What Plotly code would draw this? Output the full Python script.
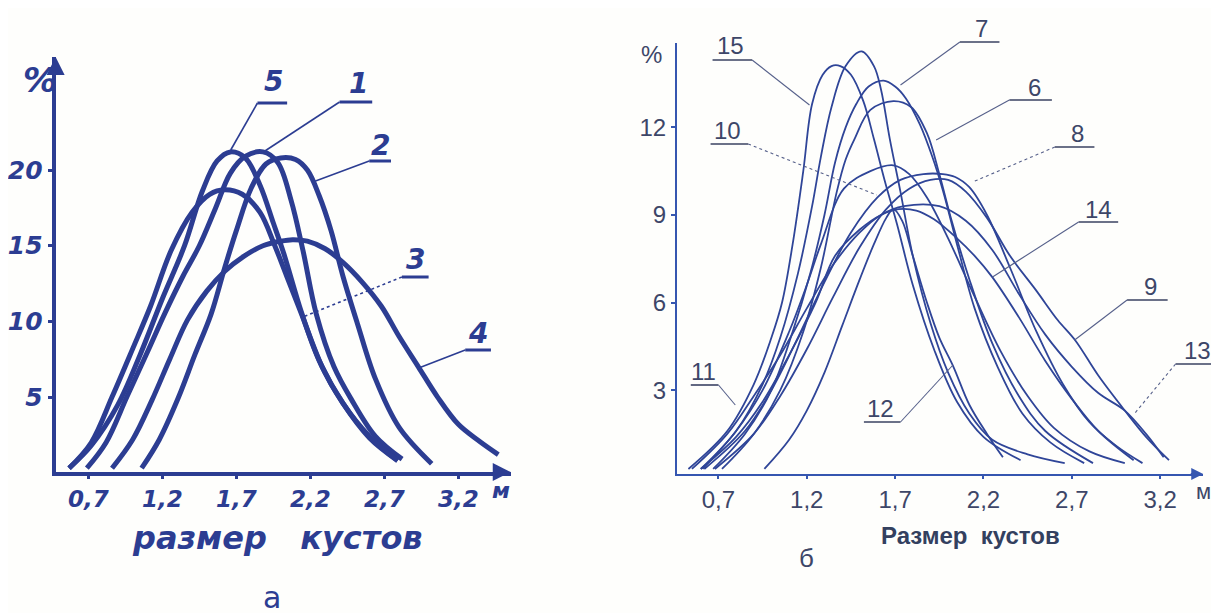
import plotly.graph_objects as go

# ---------------- DATA ----------------
x_ticks = [0.7, 1.2, 1.7, 2.2, 2.7, 3.2]
x_tick_labels = ["0,7", "1,2", "1,7", "2,2", "2,7", "3,2"]
left_y_ticks = [5, 10, 15, 20]
right_y_ticks = [3, 6, 9, 12]

# Panel "а" (left)
a1_x = [0.69, 0.82, 0.96, 1.10, 1.22, 1.34, 1.45, 1.56, 1.66, 1.76, 1.88, 1.98, 2.07, 2.15, 2.24, 2.36, 2.48, 2.64, 2.82]
a1_y = [0.3, 2.0, 5.0, 8.0, 10.6, 13.0, 15.0, 17.5, 19.8, 20.9, 21.2, 20.5, 18.0, 14.7, 10.5, 7.0, 4.8, 2.4, 0.9]

a2_x = [1.06, 1.18, 1.31, 1.42, 1.53, 1.62, 1.70, 1.80, 1.90, 2.00, 2.10, 2.18, 2.26, 2.34, 2.42, 2.52, 2.64, 2.80, 3.02]
a2_y = [0.3, 2.2, 5.0, 7.8, 10.5, 13.5, 16.0, 18.8, 20.4, 20.8, 20.7, 20.0, 18.3, 16.0, 13.0, 9.8, 6.2, 3.0, 0.6]

a3_x = [0.57, 0.72, 0.86, 1.00, 1.12, 1.26, 1.40, 1.52, 1.62, 1.74, 1.86, 1.96, 2.04, 2.14, 2.28, 2.42, 2.60, 2.79]
a3_y = [0.3, 2.0, 5.0, 8.2, 11.0, 14.7, 17.2, 18.4, 18.7, 18.4, 17.2, 15.0, 13.0, 10.5, 7.0, 4.6, 2.3, 0.8]

a4_x = [0.86, 1.00, 1.13, 1.25, 1.37, 1.50, 1.62, 1.75, 1.88, 2.00, 2.08, 2.18, 2.30, 2.42, 2.55, 2.68, 2.80, 2.93, 3.06, 3.20, 3.34, 3.47]
a4_y = [0.3, 2.2, 4.8, 7.5, 10.1, 12.0, 13.3, 14.3, 15.0, 15.3, 15.4, 15.3, 14.8, 13.9, 12.6, 11.0, 9.0, 7.0, 5.0, 3.2, 2.1, 1.2]

a5_x = [0.57, 0.72, 0.90, 1.05, 1.20, 1.35, 1.47, 1.57, 1.66, 1.76, 1.86, 1.95, 2.02, 2.14, 2.26, 2.42, 2.60, 2.79]
a5_y = [0.3, 1.8, 4.5, 7.8, 11.5, 15.0, 18.6, 20.6, 21.2, 20.8, 19.0, 16.5, 14.5, 10.6, 7.4, 4.6, 2.4, 0.8]

# Panel "б" (right)
b6_x = [0.72, 0.90, 1.05, 1.18, 1.28, 1.37, 1.42, 1.47, 1.56, 1.69, 1.79, 1.88, 1.95, 2.02, 2.12, 2.25, 2.40, 2.55, 2.82]
b6_y = [0.3, 1.5, 3.0, 5.0, 7.2, 9.8, 10.9, 11.6, 12.6, 12.9, 12.7, 11.8, 10.4, 8.8, 6.8, 4.6, 2.8, 1.6, 0.5]

b7_x = [0.67, 0.85, 1.00, 1.12, 1.22, 1.30, 1.36, 1.42, 1.48, 1.55, 1.635, 1.70, 1.76, 1.84, 1.91, 1.97, 2.05, 2.15, 2.28, 2.42, 2.58, 2.77]
b7_y = [0.3, 1.5, 3.0, 5.0, 7.0, 9.0, 10.8, 12.0, 12.8, 13.4, 13.6, 13.4, 13.0, 12.1, 11.0, 9.85, 8.0, 5.8, 3.8, 2.2, 1.2, 0.5]

b8_x = [0.62, 0.85, 1.00, 1.15, 1.30, 1.45, 1.60, 1.73, 1.86, 1.97, 2.04, 2.12, 2.22, 2.35, 2.50, 2.65, 2.80, 2.95, 3.10]
b8_y = [0.3, 1.6, 3.0, 4.8, 6.7, 8.4, 9.6, 10.2, 10.4, 10.4, 10.3, 9.95, 9.0, 7.2, 5.0, 3.2, 1.9, 1.1, 0.5]

b9_x = [0.68, 0.90, 1.05, 1.20, 1.35, 1.50, 1.65, 1.78, 1.90, 2.00, 2.10, 2.22, 2.35, 2.50, 2.62, 2.72, 2.85, 3.00, 3.12, 3.25]
b9_y = [0.3, 1.5, 2.8, 4.4, 6.2, 7.9, 9.2, 9.9, 10.2, 10.2, 9.8, 8.9, 7.6, 6.4, 5.4, 4.7, 3.5, 2.3, 1.4, 0.6]

b10_x = [0.61, 0.80, 0.95, 1.10, 1.20, 1.28, 1.41, 1.56, 1.69, 1.78, 1.88, 2.00, 2.15, 2.30, 2.45, 2.60, 2.80, 3.00]
b10_y = [0.3, 1.6, 3.0, 5.0, 6.6, 8.0, 9.9, 10.5, 10.7, 10.4, 9.6, 8.2, 6.2, 4.3, 2.8, 1.7, 0.9, 0.5]

b11_x = [0.60, 0.80, 0.95, 1.05, 1.15, 1.23, 1.28, 1.34, 1.42, 1.51, 1.58, 1.62, 1.67, 1.73, 1.80, 1.90, 2.00, 2.12, 2.25, 2.45, 2.66]
b11_y = [0.3, 1.6, 3.2, 4.8, 7.0, 9.3, 11.0, 12.7, 14.1, 14.6, 14.1, 13.3, 11.6, 9.8, 7.6, 5.3, 3.6, 2.2, 1.3, 0.8, 0.5]

b12_x = [0.96, 1.10, 1.20, 1.30, 1.40, 1.50, 1.58, 1.65, 1.69, 1.74, 1.80, 1.88, 1.95, 2.03, 2.12, 2.22, 2.31]
b12_y = [0.3, 1.3, 2.3, 3.6, 5.2, 6.8, 8.0, 8.9, 9.2, 8.8, 7.6, 6.0, 4.8, 3.8, 2.5, 1.5, 0.7]

b13_x = [0.55, 0.75, 0.90, 1.05, 1.20, 1.35, 1.50, 1.62, 1.75, 1.95, 2.10, 2.25, 2.40, 2.55, 2.70, 2.85, 3.00, 3.12, 3.22]
b13_y = [0.3, 1.5, 2.8, 4.2, 5.8, 7.3, 8.4, 9.0, 9.3, 9.3, 8.8, 7.8, 6.3, 4.9, 3.8, 2.9, 2.3, 1.5, 0.7]

b14_x = [0.60, 0.80, 0.95, 1.10, 1.25, 1.36, 1.50, 1.62, 1.72, 1.82, 1.92, 2.05, 2.15, 2.25, 2.40, 2.55, 2.70, 2.85, 3.05]
b14_y = [0.3, 1.4, 2.6, 4.2, 6.0, 7.6, 8.5, 9.0, 9.2, 9.15, 8.85, 8.2, 7.6, 6.87, 5.5, 4.0, 2.7, 1.6, 0.6]

b15_x = [0.53, 0.75, 0.90, 1.00, 1.06, 1.12, 1.18, 1.23, 1.29, 1.34, 1.39, 1.45, 1.52, 1.58, 1.64, 1.71, 1.80, 1.92, 2.05, 2.20, 2.41]
b15_y = [0.3, 1.6, 3.2, 4.8, 6.0, 8.0, 10.5, 12.8, 13.8, 14.1, 14.1, 13.8, 12.9, 11.6, 10.2, 8.7, 6.6, 4.4, 2.6, 1.4, 0.6]

left_series = [("1", a1_x, a1_y), ("2", a2_x, a2_y), ("3", a3_x, a3_y),
               ("4", a4_x, a4_y), ("5", a5_x, a5_y)]
right_series = [("6", b6_x, b6_y), ("7", b7_x, b7_y), ("8", b8_x, b8_y),
                ("9", b9_x, b9_y), ("10", b10_x, b10_y), ("11", b11_x, b11_y),
                ("12", b12_x, b12_y), ("13", b13_x, b13_y), ("14", b14_x, b14_y),
                ("15", b15_x, b15_y)]

# ---------------- STYLE / LAYOUT ----------------
W, H = 1219, 613
OFF = 8  # page body margin of the html page
LEFT_INK = "#2c3d92"
RIGHT_INK = "#2f4598"
RIGHT_AXIS = "#3556b0"
RIGHT_TXT = "#3d4668"
HAND = dict(family="DejaVu Sans", color=LEFT_INK, style="italic", weight="bold")
SANS = dict(family="Liberation Sans", color=RIGHT_TXT)


def px(xp):
    return (xp - OFF) / W


def py(yp):
    return 1 - (yp - OFF) / H


fig = go.Figure()

for name, xs, ys in left_series:
    fig.add_trace(go.Scatter(x=xs, y=ys, mode="lines", name=name,
                             line=dict(color=LEFT_INK, width=5, shape="spline", smoothing=1.0),
                             xaxis="x", yaxis="y", hoverinfo="name+x+y"))

for name, xs, ys in right_series:
    fig.add_trace(go.Scatter(x=xs, y=ys, mode="lines", name=name,
                             line=dict(color=RIGHT_INK, width=1.8, shape="spline", smoothing=1.0),
                             xaxis="x2", yaxis="y2", hoverinfo="name+x+y"))

shapes = []
annotations = []


def text(x, y, t, font):
    annotations.append(dict(x=px(x), y=py(y), xref="paper", yref="paper", text=t,
                            showarrow=False, xanchor="center", yanchor="middle", font=font))


left_labels = [
    ("5", (263, 82), (247, 277, 103), (247, 103), (220, 150)),
    ("1", (349, 84), (330, 363, 102), (330, 102), (253, 152)),
    ("2", (371, 146), (360, 382, 161), (360, 161), (303, 182)),
    ("3", (407, 259), (393, 420, 277), (393, 277), (293, 317)),
    ("4", (470, 334), (457, 483, 350), (457, 350), (410, 368)),
]
for txt, (tx, ty), (u0, u1, uy), (l0x, l0y), (l1x, l1y) in left_labels:
    text(tx, ty, txt, dict(size=28, **HAND))
    shapes.append(dict(type="line", xref="paper", yref="paper", x0=px(u0), x1=px(u1),
                       y0=py(uy), y1=py(uy), line=dict(color=LEFT_INK, width=3)))
    shapes.append(dict(type="line", xref="paper", yref="paper", x0=px(l0x), y0=py(l0y),
                       x1=px(l1x), y1=py(l1y), line=dict(color=LEFT_INK, width=1.6,
                       dash="dot" if txt == "3" else "solid")))

right_labels = [
    ("15", (725, 46), (707, 747, 60), (747, 60), (805, 105)),
    ("7", (979, 28), (957, 997, 42), (957, 42), (897, 85)),
    ("6", (1032, 87), (1007, 1050, 100), (1007, 100), (933, 140)),
    ("10", (722, 130), (705, 743, 144), (743, 144), (873, 195)),
    ("8", (1076, 133), (1053, 1093, 147), (1053, 147), (970, 182)),
    ("14", (1097, 209), (1077, 1117, 222), (1077, 222), (990, 277)),
    ("9", (1150, 286), (1126, 1167, 300), (1126, 300), (1073, 340)),
    ("13", (1197, 350), (1175, 1216, 364), (1175, 364), (1134, 413)),
    ("11", (698, 371), (685, 713, 385), (713, 385), (730, 405)),
    ("12", (877, 408), (860, 897, 422), (897, 422), (950, 365)),
]
for txt, (tx, ty), (u0, u1, uy), (l0x, l0y), (l1x, l1y) in right_labels:
    text(tx, ty, txt, dict(size=24, **SANS))
    shapes.append(dict(type="line", xref="paper", yref="paper", x0=px(u0), x1=px(u1),
                       y0=py(uy), y1=py(uy), line=dict(color="#3a4262", width=1.6)))
    shapes.append(dict(type="line", xref="paper", yref="paper", x0=px(l0x), y0=py(l0y),
                       x1=px(l1x), y1=py(l1y), line=dict(color="#56608a", width=1.1,
                       dash="dot" if txt in ("10", "8", "13") else "solid")))

# axis arrows
for (x0, y0, axp, ayp, col, wd) in [(43, 57, 0, 14, LEFT_INK, 3), (503, 472, -14, 0, LEFT_INK, 3),
                                     (1203, 474, -14, 0, RIGHT_AXIS, 2)]:
    annotations.append(dict(x=px(x0), y=py(y0), xref="paper", yref="paper", text="",
                            showarrow=True, ax=axp, ay=ayp, arrowhead=2, arrowsize=1.2,
                            arrowwidth=wd, arrowcolor=col))

# units, titles, panel letters
text(27, 80, "%", dict(size=34, **HAND))
text(493, 490, "м", dict(size=22, **HAND))
text(267, 538, "размер   кустов", dict(size=32, **HAND))
text(262, 597, "а", dict(size=30, family="DejaVu Sans", color=LEFT_INK))
text(645, 54, "%", dict(size=24, **SANS))
text(1203, 491, "м", dict(size=22, **SANS))
text(968, 535, "<b>Размер  кустов</b>", dict(size=24, family="Liberation Sans", color="#33405f"))
text(802, 558, "б", dict(size=26, **SANS))


def dom_x(a, b):
    return [px(a), px(b)]


def dom_y(bottom, top):
    return [py(bottom), py(top)]


fig.update_layout(
    width=W, height=H, margin=dict(l=0, r=0, t=0, b=0),
    paper_bgcolor="#fefefc", plot_bgcolor="rgba(0,0,0,0)", showlegend=False,
    shapes=shapes, annotations=annotations,
    xaxis=dict(domain=dom_x(43, 503), range=[0.479, 3.554], tickvals=x_ticks, ticktext=x_tick_labels,
               showline=True, linewidth=4, linecolor=LEFT_INK, ticks="outside", ticklen=3, tickwidth=3,
               tickcolor=LEFT_INK, showgrid=False, zeroline=False, tickfont=dict(size=23, **HAND),
               anchor="y", fixedrange=True),
    yaxis=dict(domain=dom_y(472, 57), range=[0.05, 27.47], tickvals=left_y_ticks,
               ticktext=[str(v) for v in left_y_ticks], showline=True, linewidth=4, linecolor=LEFT_INK,
               ticks="outside", ticklen=4, tickwidth=3, tickcolor=LEFT_INK, showgrid=False, zeroline=False,
               tickfont=dict(size=25, **HAND), anchor="x", fixedrange=True),
    xaxis2=dict(domain=dom_x(671, 1203), range=[0.465, 3.444], tickvals=x_ticks, ticktext=x_tick_labels,
                showline=True, linewidth=2, linecolor=RIGHT_AXIS, ticks="outside", ticklen=3, tickwidth=2,
                tickcolor=RIGHT_AXIS, showgrid=False, zeroline=False, tickfont=dict(size=24, **SANS),
                anchor="y2", fixedrange=True),
    yaxis2=dict(domain=dom_y(474, 43), range=[0.127, 14.89], tickvals=right_y_ticks,
                ticktext=[str(v) for v in right_y_ticks], showline=True, linewidth=2, linecolor=RIGHT_AXIS,
                ticks="outside", ticklen=4, tickwidth=2, tickcolor=RIGHT_AXIS, showgrid=False,
                zeroline=False, tickfont=dict(size=24, **SANS), anchor="x2", fixedrange=True),
)

fig.write_html("out.html")
